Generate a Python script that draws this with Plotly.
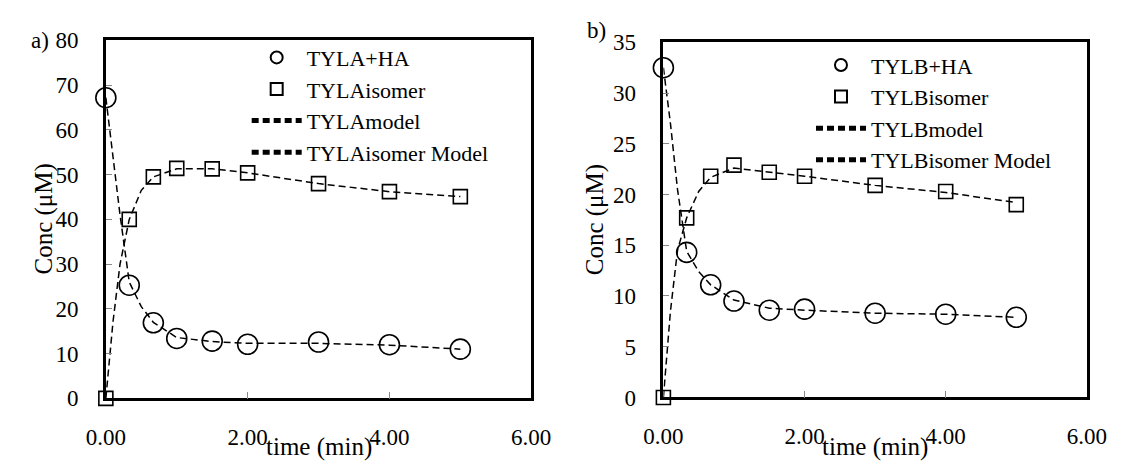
import plotly.graph_objects as go

# Sampling times (min)
t_obs = [0, 0.33, 0.67, 1, 1.5, 2, 3, 4, 5]
t_model = [0, 0.1, 0.2, 0.33, 0.5, 0.67, 1, 1.5, 2, 3, 4, 5]

# Panel a) TYLA
tyla_ha = [67.2, 25.3, 16.9, 13.4, 12.8, 12.1, 12.6, 12.0, 11.0]
tyla_isomer = [0, 40.0, 49.5, 51.4, 51.3, 50.4, 48.0, 46.2, 45.1]
tyla_model = [67.2, 54, 41, 26, 20.5, 17, 13.6, 12.7, 12.3, 12.3, 11.9, 11.0]
tyla_isomer_model = [0, 17, 30, 40, 46.5, 49.5, 51.3, 51.3, 50.4, 48.0, 46.2, 45.1]

# Panel b) TYLB
tylb_ha = [32.5, 14.3, 11.1, 9.5, 8.6, 8.7, 8.3, 8.2, 7.9]
tylb_isomer = [0, 17.7, 21.8, 22.9, 22.2, 21.8, 20.9, 20.3, 19.0]
tylb_model = [32.5, 27, 20.5, 14.4, 12.4, 11.1, 9.6, 8.8, 8.6, 8.3, 8.2, 7.9]
tylb_isomer_model = [0, 8.5, 14.5, 17.7, 20.3, 21.7, 22.6, 22.2, 21.8, 20.9, 20.2, 19.2]

W, H = 1130, 472
FONT = "Liberation Serif"
FS = 23
TITLE_FS = 25
LEGEND_FS = 22
DASH = "7px,4px"


def px_x(p):
    return p / W


def px_y(p):
    return 1 - p / H


fig = go.Figure()


def add_panel(xa, ya, legend, ha, iso, mdl, iso_mdl, names):
    fig.add_trace(go.Scatter(
        x=t_obs, y=ha, mode="markers", name=names[0], legend=legend,
        xaxis=xa, yaxis=ya, cliponaxis=False,
        marker=dict(symbol="circle-open", size=20, color="black",
                    line=dict(width=1.6, color="black"))))
    fig.add_trace(go.Scatter(
        x=t_obs, y=iso, mode="markers", name=names[1], legend=legend,
        xaxis=xa, yaxis=ya, cliponaxis=False,
        marker=dict(symbol="square-open", size=14, color="black",
                    line=dict(width=1.6, color="black"))))
    fig.add_trace(go.Scatter(
        x=t_model, y=mdl, mode="lines", name=names[2], legend=legend,
        xaxis=xa, yaxis=ya,
        line=dict(color="black", width=1.5, dash=DASH)))
    fig.add_trace(go.Scatter(
        x=t_model, y=iso_mdl, mode="lines", name=names[3], legend=legend,
        xaxis=xa, yaxis=ya,
        line=dict(color="black", width=1.5, dash=DASH)))


add_panel("x", "y", "legend", tyla_ha, tyla_isomer, tyla_model, tyla_isomer_model,
          ["TYLA+HA", "TYLAisomer", "TYLAmodel", "TYLAisomer Model"])
add_panel("x2", "y2", "legend2", tylb_ha, tylb_isomer, tylb_model, tylb_isomer_model,
          ["TYLB+HA", "TYLBisomer", "TYLBmodel", "TYLBisomer Model"])

tick_font = dict(family=FONT, size=FS, color="black")
common_x = dict(range=[0, 6], dtick=2, tick0=0, tickformat=".2f",
                showline=True, linewidth=2.5, linecolor="black", mirror=True,
                ticks="inside", ticklen=7, tickwidth=1, tickcolor="#888",
                showgrid=False, zeroline=False, tickfont=tick_font,
                ticklabelstandoff=16)
common_y = dict(showline=True, linewidth=2.5, linecolor="black", mirror=True,
                ticks="inside", ticklen=6, tickwidth=1, tickcolor="#888",
                showgrid=False, zeroline=False, tickfont=tick_font,
                ticklabelstandoff=20)

legend_common = dict(font=dict(family=FONT, size=LEGEND_FS, color="black"),
                     bgcolor="rgba(0,0,0,0)", borderwidth=0,
                     itemsizing="constant", itemwidth=50, tracegroupgap=0,
                     xanchor="left", yanchor="top")


def label(text, x, y, size=FS, angle=0, xanchor="center"):
    return dict(text=text, x=px_x(x), y=px_y(y), xref="paper", yref="paper",
                xanchor=xanchor, yanchor="middle", textangle=angle,
                showarrow=False, font=dict(family=FONT, size=size, color="black"))


fig.update_layout(
    width=W, height=H, autosize=False,
    margin=dict(l=0, r=0, t=0, b=0),
    paper_bgcolor="white", plot_bgcolor="white",
    showlegend=True,
    xaxis=dict(domain=[px_x(89), px_x(530)], anchor="y", **common_x),
    yaxis=dict(domain=[px_y(408), px_y(30)], anchor="x", range=[0, 80], dtick=10,
               **common_y),
    xaxis2=dict(domain=[px_x(667), px_x(1106)], anchor="y2", **common_x),
    yaxis2=dict(domain=[px_y(407), px_y(32)], anchor="x2", range=[0, 35], dtick=5,
                **common_y),
    legend=dict(x=px_x(235), y=px_y(26), **legend_common),
    legend2=dict(x=px_x(820), y=px_y(34), **legend_common),
    annotations=[
        label("a)", 9, 30, xanchor="left"),
        label("b)", 586, 20, xanchor="left"),
        label("Conc (μM)", 25, 219, size=TITLE_FS, angle=-90),
        label("Conc (μM)", 597, 219, size=TITLE_FS, angle=-90),
        label("time (min)", 310, 459, size=TITLE_FS),
        label("time (min)", 886, 459, size=TITLE_FS),
    ],
)

fig.write_html("out.html")
